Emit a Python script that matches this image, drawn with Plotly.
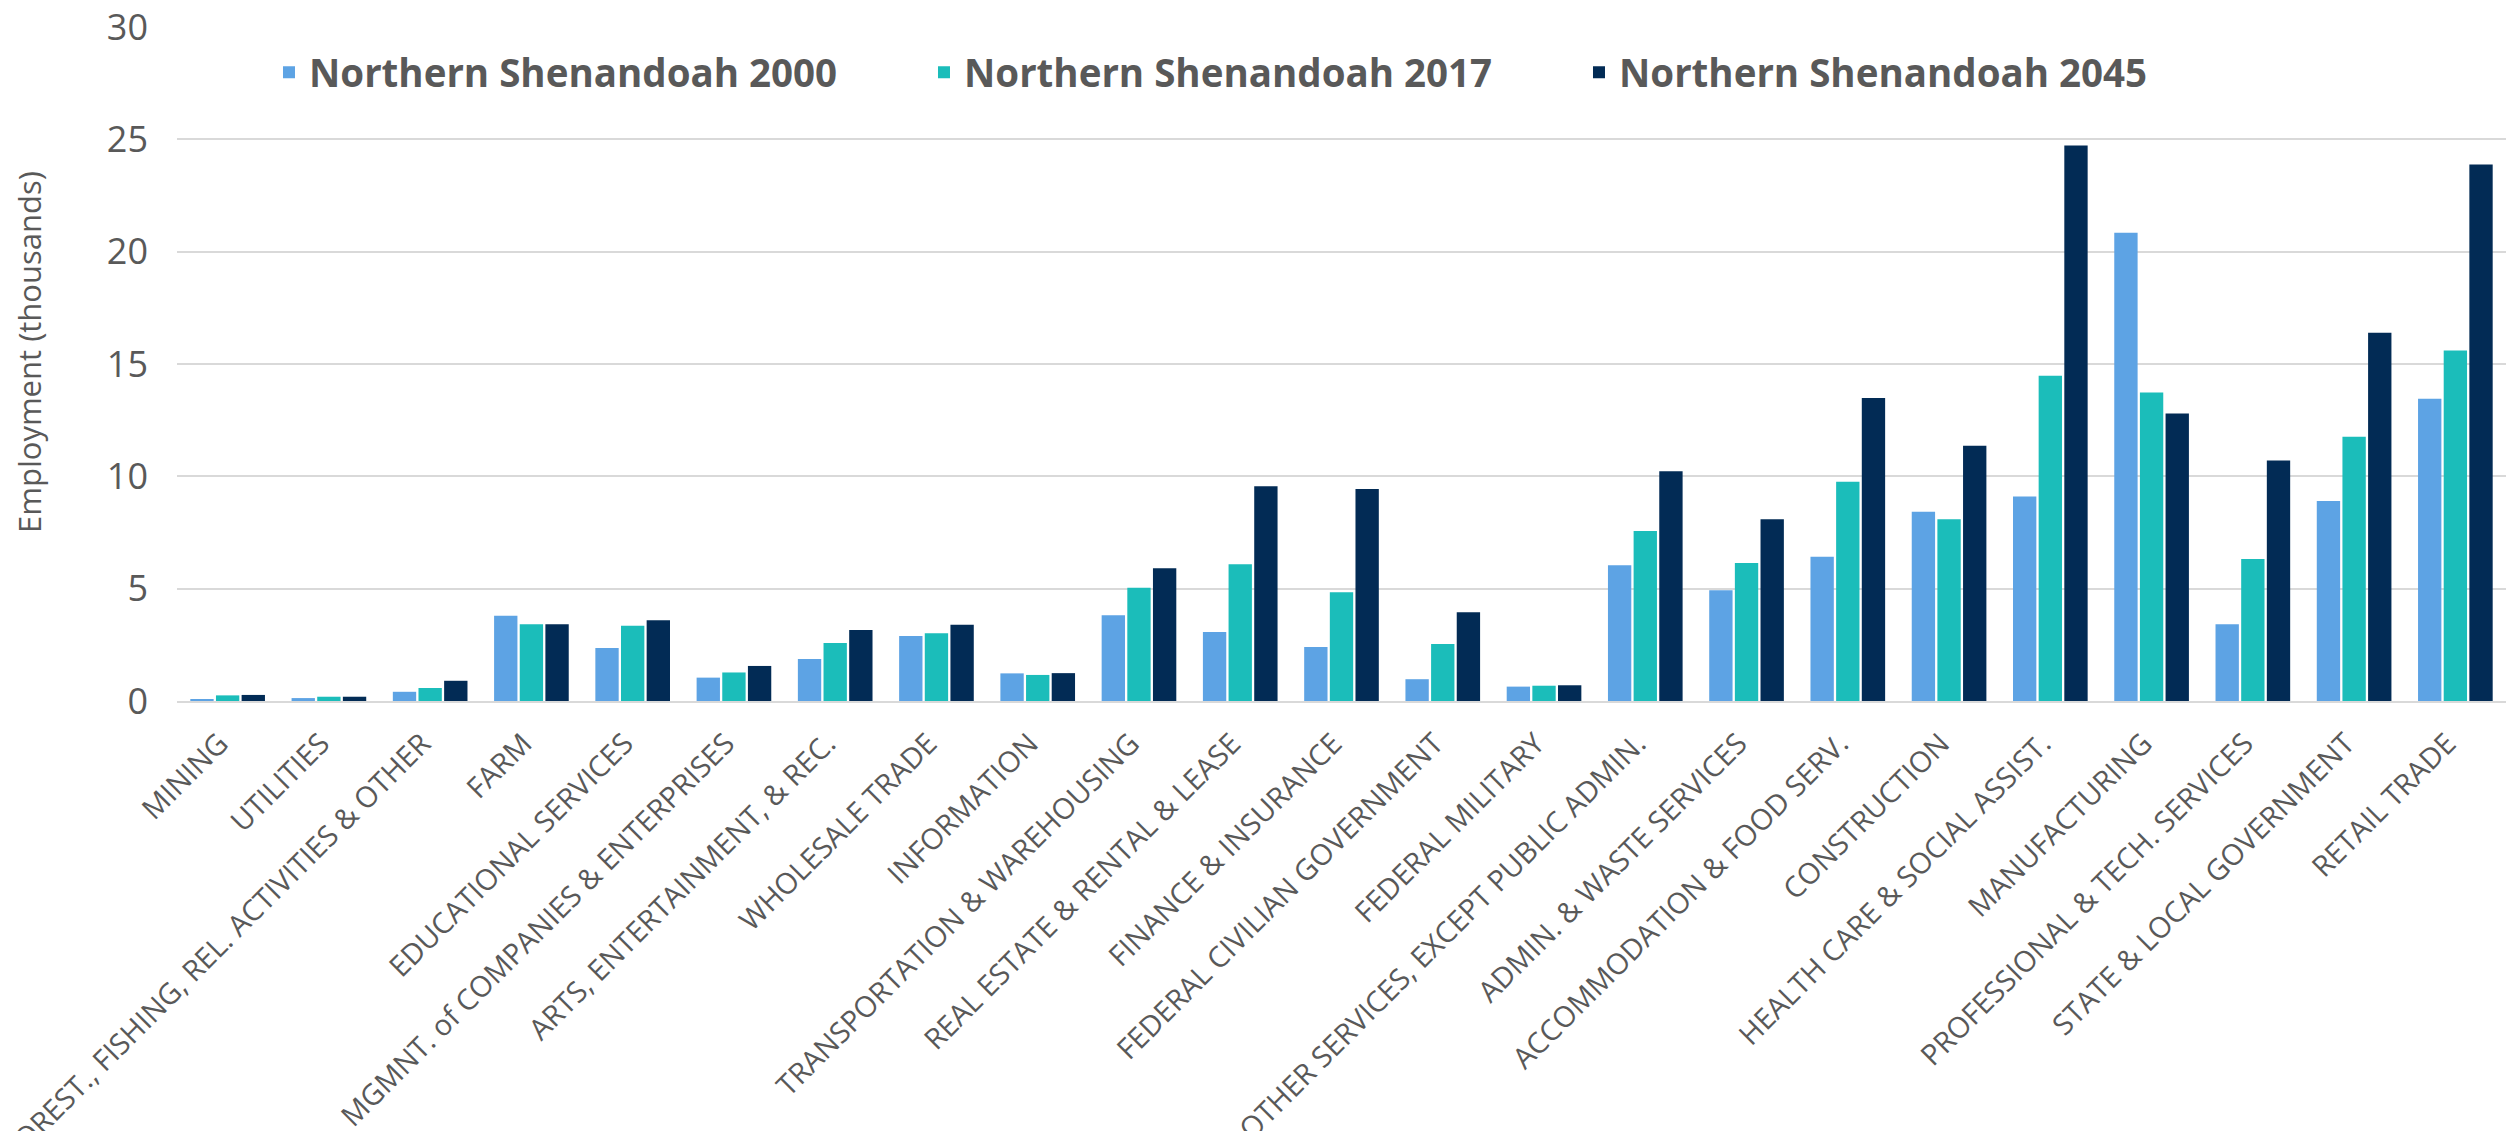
import plotly.graph_objects as go

categories = [
    "MINING", "UTILITIES", "FOREST., FISHING, REL. ACTIVITIES & OTHER", "FARM",
    "EDUCATIONAL SERVICES", "MGMNT. of COMPANIES & ENTERPRISES",
    "ARTS, ENTERTAINMENT, & REC.", "WHOLESALE TRADE", "INFORMATION",
    "TRANSPORTATION & WAREHOUSING", "REAL ESTATE & RENTAL & LEASE",
    "FINANCE & INSURANCE", "FEDERAL CIVILIAN GOVERNMENT", "FEDERAL MILITARY",
    "OTHER SERVICES, EXCEPT PUBLIC ADMIN.", "ADMIN. & WASTE SERVICES",
    "ACCOMMODATION & FOOD SERV.", "CONSTRUCTION", "HEALTH CARE & SOCIAL ASSIST.",
    "MANUFACTURING", "PROFESSIONAL & TECH. SERVICES", "STATE & LOCAL GOVERNMENT",
    "RETAIL TRADE",
]

values_2000 = [0.09, 0.13, 0.41, 3.79, 2.36, 1.04, 1.87, 2.89, 1.23, 3.82, 3.07,
               2.40, 0.97, 0.64, 6.04, 4.93, 6.42, 8.42, 9.10, 20.84, 3.42, 8.90, 13.45]
values_2017 = [0.25, 0.19, 0.58, 3.42, 3.35, 1.27, 2.58, 3.02, 1.16, 5.04, 6.09,
               4.84, 2.54, 0.68, 7.57, 6.14, 9.76, 8.09, 14.48, 13.73, 6.32, 11.76, 15.60]
values_2045 = [0.27, 0.19, 0.90, 3.42, 3.59, 1.56, 3.16, 3.39, 1.24, 5.91, 9.56,
               9.44, 3.95, 0.70, 10.23, 8.09, 13.49, 11.36, 24.72, 12.80, 10.71, 16.39, 23.88]

series_names = ["Northern Shenandoah 2000", "Northern Shenandoah 2017", "Northern Shenandoah 2045"]
series_colors = ["#5DA3E4", "#1BBDBA", "#022B55"]
y_ticks = [0, 5, 10, 15, 20, 25, 30]
y_title = "Employment (thousands)"

TEXT = "#595959"
GRID = "#D9D9D9"

fig = go.Figure()
for name, vals, col in zip(series_names, [values_2000, values_2017, values_2045], series_colors):
    fig.add_trace(go.Bar(name=name, x=categories, y=vals, marker=dict(color=col, line=dict(width=0))))

fig.update_layout(
    width=2506, height=1131,
    margin=dict(l=177, r=0, t=27, b=430, pad=0),
    paper_bgcolor="white", plot_bgcolor="white",
    barmode="group", bargap=0.24, bargroupgap=0.09,
    font=dict(family="Open Sans", color=TEXT),
    legend=dict(
        orientation="h", x=0.0395, y=0.932, xanchor="left", yanchor="middle",
        font=dict(family="Open Sans", size=38.5, color=TEXT, weight="bold"),
        entrywidth=610, entrywidthmode="pixels", bgcolor="rgba(0,0,0,0)",
        traceorder="normal",
    ),
    annotations=[dict(
        text=y_title, textangle=-90, xref="paper", yref="paper",
        x=-0.0635, y=0.518, xanchor="center", yanchor="middle", showarrow=False,
        font=dict(family="Open Sans", size=31, color=TEXT),
    )],
)
fig.update_yaxes(
    range=[0, 30], tickvals=y_ticks, showgrid=True, gridcolor=GRID, gridwidth=2,
    zeroline=False, showline=False, ticks="", automargin=False,
    tickfont=dict(family="Open Sans", size=36, color=TEXT),
    ticklabelstandoff=28,
)
fig.update_xaxes(
    tickangle=-45, showline=True, linecolor=GRID, linewidth=2, ticks="", automargin=False,
    tickfont=dict(family="Open Sans", size=29, color=TEXT),
    ticklabelstandoff=12, ticklabelshift=-8,
)

fig.write_html("out.html", config={"displayModeBar": False},
               post_script="document.body.style.margin='0';")
